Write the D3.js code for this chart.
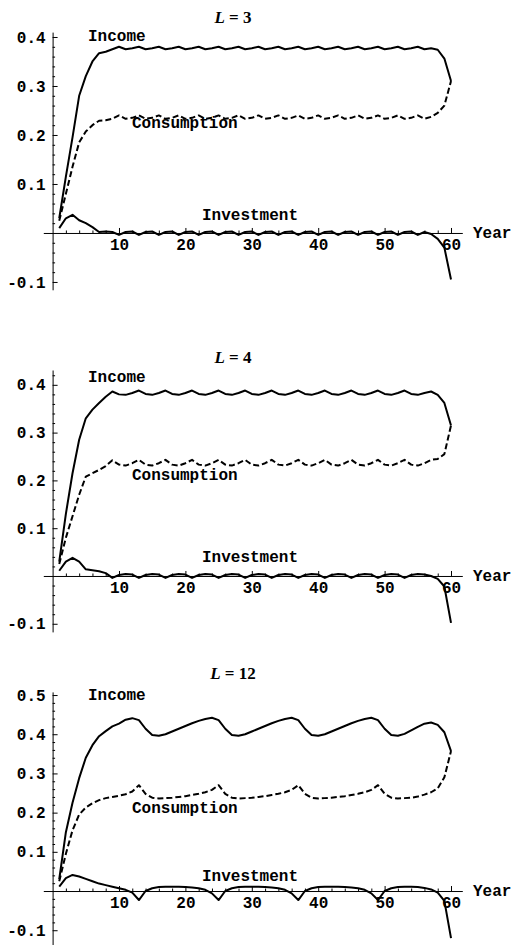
<!DOCTYPE html>
<html>
<head>
<meta charset="utf-8">
<script src="https://cdn.jsdelivr.net/npm/d3@7"></script>
<style>
  html, body { margin: 0; padding: 0; background: #fff; }
  svg { display: block; }
</style>
</head>
<body>
<svg id="chart" width="512" height="945"></svg>
<script>
// ---------------- DATA ----------------
const years = [1,2,3,4,5,6,7,8,9,10,11,12,13,14,15,16,17,18,19,20,
  21,22,23,24,25,26,27,28,29,30,31,32,33,34,35,36,37,38,39,40,
  41,42,43,44,45,46,47,48,49,50,51,52,53,54,55,56,57,58,59,60];

// L = 3
const incomeL3 = [0.030,0.115,0.195,0.280,0.320,0.350,0.367,0.370,0.375,0.380,
  0.375,0.377,0.380,0.375,0.377,0.380,0.375,0.377,0.380,0.375,
  0.377,0.380,0.375,0.377,0.380,0.375,0.377,0.380,0.375,0.377,
  0.380,0.375,0.377,0.380,0.375,0.377,0.380,0.375,0.377,0.380,
  0.375,0.377,0.380,0.375,0.377,0.380,0.375,0.377,0.380,0.375,
  0.377,0.380,0.375,0.377,0.380,0.375,0.377,0.374,0.356,0.310];
const consumptionL3 = [0.025,0.080,0.135,0.185,0.207,0.220,0.229,0.230,0.233,0.240,
  0.233,0.235,0.240,0.233,0.235,0.240,0.233,0.235,0.240,0.233,
  0.235,0.240,0.233,0.235,0.240,0.233,0.235,0.240,0.233,0.235,
  0.240,0.233,0.235,0.240,0.233,0.235,0.240,0.233,0.235,0.240,
  0.233,0.235,0.240,0.233,0.235,0.240,0.233,0.235,0.240,0.233,
  0.235,0.240,0.233,0.235,0.240,0.233,0.237,0.245,0.260,0.310];
const investmentL3 = [0.010,0.030,0.037,0.026,0.020,0.012,0.002,0.003,0.002,-0.004,
  0.002,0.003,-0.004,0.002,0.003,-0.004,0.002,0.003,-0.004,0.002,
  0.003,-0.004,0.002,0.003,-0.004,0.002,0.003,-0.004,0.002,0.003,
  -0.004,0.002,0.003,-0.004,0.002,0.003,-0.004,0.002,0.003,-0.004,
  0.002,0.003,-0.004,0.002,0.003,-0.004,0.002,0.003,-0.004,0.002,
  0.003,-0.004,0.002,0.003,-0.004,0.002,-0.002,-0.012,-0.030,-0.095];

// L = 4
const incomeL4 = [0.030,0.130,0.215,0.285,0.330,0.348,0.362,0.375,0.386,0.380,
  0.379,0.383,0.388,0.381,0.379,0.383,0.388,0.381,0.379,0.383,
  0.388,0.381,0.379,0.383,0.388,0.381,0.379,0.383,0.388,0.381,
  0.379,0.383,0.388,0.381,0.379,0.383,0.388,0.381,0.379,0.383,
  0.388,0.381,0.379,0.383,0.388,0.381,0.379,0.383,0.388,0.381,
  0.379,0.383,0.388,0.381,0.379,0.383,0.386,0.379,0.362,0.315];
const consumptionL4 = [0.025,0.080,0.125,0.170,0.208,0.215,0.222,0.230,0.242,0.233,
  0.231,0.236,0.243,0.233,0.231,0.236,0.243,0.233,0.231,0.236,
  0.243,0.233,0.231,0.236,0.243,0.233,0.231,0.236,0.243,0.233,
  0.231,0.236,0.243,0.233,0.231,0.236,0.243,0.233,0.231,0.236,
  0.243,0.233,0.231,0.236,0.243,0.233,0.231,0.236,0.243,0.233,
  0.231,0.236,0.243,0.233,0.231,0.236,0.243,0.245,0.255,0.315];
const investmentL4 = [0.011,0.030,0.038,0.030,0.014,0.012,0.010,0.006,-0.004,0.002,
  0.004,0.003,-0.004,0.002,0.004,0.003,-0.004,0.002,0.004,0.003,
  -0.004,0.002,0.004,0.003,-0.004,0.002,0.004,0.003,-0.004,0.002,
  0.004,0.003,-0.004,0.002,0.004,0.003,-0.004,0.002,0.004,0.003,
  -0.004,0.002,0.004,0.003,-0.004,0.002,0.004,0.003,-0.004,0.002,
  0.004,0.003,-0.004,0.002,0.004,0.003,0.000,-0.006,-0.022,-0.098];

// L = 12
const incomeL12 = [0.030,0.150,0.225,0.288,0.340,0.372,0.395,0.408,0.420,0.427,
  0.437,0.441,0.436,0.414,0.398,0.396,0.400,0.407,0.414,0.421,
  0.428,0.434,0.439,0.442,0.436,0.414,0.398,0.396,0.400,0.407,
  0.414,0.421,0.428,0.434,0.439,0.442,0.436,0.414,0.398,0.396,
  0.400,0.407,0.414,0.421,0.428,0.434,0.439,0.442,0.436,0.414,
  0.398,0.396,0.401,0.410,0.419,0.427,0.430,0.424,0.405,0.357];
const consumptionL12 = [0.025,0.095,0.155,0.195,0.213,0.224,0.232,0.237,0.240,0.243,
  0.247,0.254,0.270,0.248,0.238,0.236,0.237,0.238,0.240,0.242,
  0.245,0.248,0.252,0.258,0.270,0.248,0.238,0.236,0.237,0.238,
  0.240,0.242,0.245,0.248,0.252,0.258,0.270,0.248,0.238,0.236,
  0.237,0.238,0.240,0.242,0.245,0.248,0.252,0.258,0.270,0.248,
  0.238,0.236,0.237,0.238,0.241,0.246,0.252,0.262,0.290,0.357];
const investmentL12 = [0.011,0.033,0.041,0.037,0.031,0.025,0.019,0.015,0.011,0.007,
  0.003,-0.004,-0.023,0.000,0.007,0.010,0.011,0.011,0.011,0.010,
  0.009,0.007,0.003,-0.006,-0.023,0.000,0.007,0.010,0.011,0.011,
  0.011,0.010,0.009,0.007,0.003,-0.006,-0.023,0.000,0.007,0.010,
  0.011,0.011,0.011,0.010,0.009,0.007,0.003,-0.006,-0.023,0.000,
  0.007,0.010,0.011,0.011,0.010,0.008,0.004,-0.004,-0.025,-0.120];

const xTickValues = [10,20,30,40,50,60];
const yTicksL3 = [-0.1,0.1,0.2,0.3,0.4];
const yTicksL4 = [-0.1,0.1,0.2,0.3,0.4];
const yTicksL12 = [-0.1,0.1,0.2,0.3,0.4,0.5];
const panelTitles = ["3","4","12"];
const seriesNames = ["Income","Consumption","Investment"];
const xAxisName = "Year";

// ---------------- LAYOUT ----------------
const panels = [
  { L: panelTitles[0], inc: incomeL3, con: consumptionL3, inv: investmentL3, ticks: yTicksL3,
    yDomain: [-0.116, 0.41], yRange: [289.8, 32.1], titleY: 23,
    labelY: [41, 128, 220] },
  { L: panelTitles[1], inc: incomeL4, con: consumptionL4, inv: investmentL4, ticks: yTicksL4,
    yDomain: [-0.117, 0.431], yRange: [631.9, 370], titleY: 363,
    labelY: [382, 480, 562] },
  { L: panelTitles[2], inc: incomeL12, con: consumptionL12, inv: investmentL12, ticks: yTicksL12,
    yDomain: [-0.14, 0.508], yRange: [945.9, 691.9], titleY: 679,
    labelY: [700, 813, 881] }
];
const labelX = [88, 132, 202];

const svg = d3.select("#chart");
svg.append("rect").attr("width", 512).attr("height", 945).attr("fill", "#fff");

const x = d3.scaleLinear().domain([-1.4, 61.7]).range([43.3, 462.3]);
const mono = "'Liberation Mono', 'Courier New', monospace";
const yFmt = v => d3.format(".1f")(v).replace("\u2212", "-");

panels.forEach(p => {
  const y = d3.scaleLinear().domain(p.yDomain).range(p.yRange);
  const g = svg.append("g");
  const y0 = y(0);

  // x axis (major)
  const xa = g.append("g").attr("transform", `translate(0,${y0})`)
    .call(d3.axisBottom(x).tickValues(xTickValues).tickSizeInner(-5).tickSizeOuter(0)
      .tickPadding(6).tickFormat(d3.format("d")));
  // x minor ticks
  g.append("g").attr("transform", `translate(0,${y0})`)
    .call(d3.axisBottom(x).tickValues(d3.range(2, 61, 2).filter(v => v % 10 !== 0))
      .tickSizeInner(-2.5).tickSizeOuter(0).tickFormat(""))
    .call(s => s.select(".domain").remove());

  // y axis (major)
  g.append("g").attr("transform", `translate(${x(0)},0)`)
    .call(d3.axisLeft(y).tickValues(p.ticks).tickSizeInner(-5).tickSizeOuter(0)
      .tickPadding(7).tickFormat(yFmt));
  // y minor ticks
  const minor = d3.range(-0.1, p.yDomain[1], 0.02).map(v => +v.toFixed(2))
    .filter(v => Math.abs(Math.round(v * 10) - v * 10) > 1e-6);
  g.append("g").attr("transform", `translate(${x(0)},0)`)
    .call(d3.axisLeft(y).tickValues(minor).tickSizeInner(-2.5).tickSizeOuter(0).tickFormat(""))
    .call(s => s.select(".domain").remove());

  g.selectAll(".tick text").attr("font-family", mono).attr("font-size", 16)
    .attr("font-weight", "bold").attr("fill", "#000");
  g.selectAll(".domain, .tick line").attr("stroke", "#000").attr("stroke-width", 1);
  xa.selectAll(".tick text").attr("dy", "0.71em");

  const line = (arr) => d3.line().x((d, i) => x(years[i])).y(d => y(d))(arr);

  g.append("path").attr("d", line(p.inc)).attr("fill", "none").attr("stroke", "#000")
    .attr("stroke-width", 2).attr("stroke-linejoin", "round");
  g.append("path").attr("d", line(p.con)).attr("fill", "none").attr("stroke", "#000")
    .attr("stroke-width", 2).attr("stroke-dasharray", "6,3").attr("stroke-linejoin", "round");
  g.append("path").attr("d", line(p.inv)).attr("fill", "none").attr("stroke", "#000")
    .attr("stroke-width", 2).attr("stroke-linejoin", "round");

  // Series labels
  seriesNames.forEach((name, i) => {
    g.append("text").attr("x", labelX[i]).attr("y", p.labelY[i])
      .attr("font-family", mono).attr("font-size", 16).attr("font-weight", "bold")
      .attr("fill", "#000").text(name);
  });
  g.append("text").attr("x", 473).attr("y", y0 + 5)
    .attr("font-family", mono).attr("font-size", 16).attr("font-weight", "bold")
    .attr("fill", "#000").text(xAxisName);

  // Title
  const t = g.append("text").attr("x", 233).attr("y", p.titleY).attr("text-anchor", "middle")
    .attr("font-family", "'Liberation Serif', 'Times New Roman', serif")
    .attr("font-size", 17).attr("font-weight", "bold").attr("fill", "#000");
  t.append("tspan").attr("font-style", "italic").text("L");
  t.append("tspan").text(" = " + p.L);
});
</script>
</body>
</html>
